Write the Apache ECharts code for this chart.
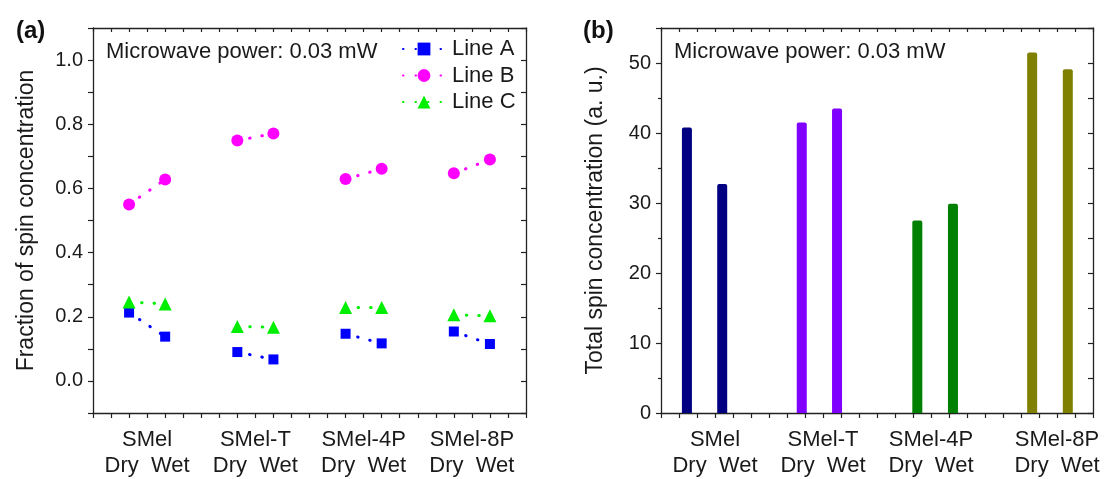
<!DOCTYPE html>
<html>
<head>
<meta charset="utf-8">
<script src="https://cdn.jsdelivr.net/npm/echarts@6/dist/echarts.min.js"></script>
<style>
html,body{margin:0;padding:0;background:#fff;}
#c{width:1106px;height:479px;}
</style>
</head>
<body>
<div id="c"></div>
<script>
// ---- data ----
const samples = ['SMel', 'SMel-T', 'SMel-4P', 'SMel-8P'];
const conditionLabel = 'Dry  Wet';
// x positions (axis units) of Dry / Wet points
const fracX = [1, 2, 4, 5, 7, 8, 10, 11];
const lineA = [0.213, 0.138, 0.090, 0.067, 0.147, 0.117, 0.154, 0.115];
const lineB = [0.550, 0.628, 0.749, 0.771, 0.629, 0.661, 0.647, 0.690];
const lineC = [0.246, 0.240, 0.170, 0.167, 0.229, 0.229, 0.206, 0.203];
const fracLabelX = [1.5, 4.5, 7.5, 10.5];

const totalX = [0.72, 1.70, 3.91, 4.89, 7.12, 8.11, 10.31, 11.30];
const totalSpin = [40.8, 32.7, 41.5, 43.5, 27.5, 29.9, 51.5, 49.1];
const totalLabelX = [1.5, 4.5, 7.5, 11];

const fracTicks = { min: -0.1, max: 1.1, interval: 0.1 };
const totalTicks = { min: 0, max: 55, interval: 10 };
const xTicks = { min: 0, max: 12, interval: 0.5 };

const annotation = 'Microwave power: 0.03 mW';
const fracTitle = 'Fraction of spin concentration';
const totalTitle = 'Total spin concentration (a. u.)';

// ---- styles ----
const lineColors = { 'Line A': '#0000ff', 'Line B': '#ff00ff', 'Line C': '#00ee00' };
const lineSymbols = { 'Line A': 'rect', 'Line B': 'circle', 'Line C': 'triangle' };
const lineSymbolSize = { 'Line A': 10, 'Line B': 12, 'Line C': 13 };
const barColors = ['#000080', '#8000ff', '#008000', '#808000'];
const FONT = '"Liberation Sans", Arial, Helvetica, sans-serif';
const AX = '#222';

function xLabelFormatter(labelX) {
  return function (v) {
    for (let i = 0; i < labelX.length; i++) {
      if (Math.abs(v - labelX[i]) < 1e-6) return samples[i] + '\n' + conditionLabel;
    }
    return '';
  };
}

function xAxes(gridIndex, labelX) {
  return [
    {
      type: 'value', gridIndex, position: 'bottom',
      min: xTicks.min, max: xTicks.max, interval: xTicks.interval,
      axisLine: { show: true, onZero: false, lineStyle: { color: AX, width: 1.3 } },
      axisTick: { show: true, inside: false, length: 5, lineStyle: { color: AX, width: 1.2 } },
      splitLine: { show: false },
      axisLabel: {
        show: true, margin: 14, formatter: xLabelFormatter(labelX),
        fontFamily: FONT, fontSize: 22, color: '#1a1a1a', lineHeight: 26
      }
    },
    {
      type: 'value', gridIndex, position: 'top',
      min: xTicks.min, max: xTicks.max, interval: xTicks.interval,
      axisLine: { show: true, onZero: false, lineStyle: { color: AX, width: 1.3 } },
      axisTick: { show: true, inside: true, length: 4, lineStyle: { color: AX, width: 1.2 } },
      splitLine: { show: false },
      axisLabel: { show: false }
    }
  ];
}

const seriesList = [];
const lineDefs = [['Line A', lineA], ['Line B', lineB], ['Line C', lineC]];
lineDefs.forEach(([name, vals]) => {
  for (let g = 0; g < samples.length; g++) {
    seriesList.push({
      name, type: 'line', xAxisIndex: 0, yAxisIndex: 0,
      color: lineColors[name],
      symbol: lineSymbols[name], symbolSize: lineSymbolSize[name],
      lineStyle: { color: lineColors[name], width: 3, type: [0.5, 12], cap: 'round' },
      itemStyle: { color: lineColors[name] },
      data: [[fracX[2 * g], vals[2 * g]], [fracX[2 * g + 1], vals[2 * g + 1]]],
      silent: true, animation: false
    });
  }
});
seriesList.push({
  type: 'bar', xAxisIndex: 2, yAxisIndex: 2,
  barWidth: 10,
  data: totalSpin.map((v, i) => ({
    value: [totalX[i], v],
    itemStyle: { color: barColors[Math.floor(i / 2)], borderRadius: [2, 2, 0, 0] }
  })),
  animation: false
});

const option = {
  backgroundColor: '#fff',
  animation: false,
  textStyle: { fontFamily: FONT },
  title: [
    {
      text: '{p|(}{b|a}{p|)}', left: 11, top: 14,
      textStyle: { rich: {
        p: { fontSize: 24, fontFamily: FONT, color: '#111' },
        b: { fontSize: 24, fontWeight: 'bold', fontFamily: FONT, color: '#111' } } }
    },
    {
      text: '{p|(}{b|b}{p|)}', left: 578, top: 14,
      textStyle: { rich: {
        p: { fontSize: 24, fontFamily: FONT, color: '#111' },
        b: { fontSize: 24, fontWeight: 'bold', fontFamily: FONT, color: '#111' } } }
    },
    {
      text: annotation, left: 101, top: 36,
      textStyle: { fontSize: 22, fontWeight: 'normal', fontFamily: FONT, color: '#1a1a1a' }
    },
    {
      text: annotation, left: 669, top: 36,
      textStyle: { fontSize: 22, fontWeight: 'normal', fontFamily: FONT, color: '#1a1a1a' }
    }
  ],
  legend: {
    data: ['Line A', 'Line B', 'Line C'],
    orient: 'vertical', left: 397, top: 33,
    itemWidth: 42, itemHeight: 16, itemGap: 4.5,
    textStyle: { fontSize: 22, fontFamily: FONT, color: '#1a1a1a', padding: [0, 0, 0, 2] },
    selectedMode: false
  },
  grid: [
    { left: 93, right: 580, top: 28, bottom: 62 },
    { left: 661, right: 13, top: 28, bottom: 62 }
  ],
  xAxis: [...xAxes(0, fracLabelX), ...xAxes(1, totalLabelX)],
  yAxis: [
    {
      type: 'value', gridIndex: 0, position: 'left',
      min: fracTicks.min, max: fracTicks.max, interval: fracTicks.interval,
      name: fracTitle, nameLocation: 'middle', nameGap: 55, nameRotate: 90,
      nameTextStyle: { fontSize: 23, fontFamily: FONT, color: '#1a1a1a' },
      axisLine: { show: true, onZero: false, lineStyle: { color: AX, width: 1.3 } },
      axisTick: { show: true, inside: false, length: 5, lineStyle: { color: AX, width: 1.2 } },
      splitLine: { show: false },
      axisLabel: {
        margin: 10, fontSize: 20, fontFamily: FONT, color: '#1a1a1a',
        formatter: v => (Math.round(v * 10) % 2 === 0 ? (Math.round(v * 10) / 10).toFixed(1) : '')
      }
    },
    {
      type: 'value', gridIndex: 0, position: 'right',
      min: fracTicks.min, max: fracTicks.max, interval: fracTicks.interval,
      axisLine: { show: true, onZero: false, lineStyle: { color: AX, width: 1.3 } },
      axisTick: { show: true, inside: true, length: 5, lineStyle: { color: AX, width: 1.2 } },
      splitLine: { show: false }, axisLabel: { show: false }
    },
    {
      type: 'value', gridIndex: 1, position: 'left',
      min: totalTicks.min, max: totalTicks.max, interval: totalTicks.interval,
      name: totalTitle, nameLocation: 'middle', nameGap: 54, nameRotate: 90,
      nameTextStyle: { fontSize: 23, fontFamily: FONT, color: '#1a1a1a' },
      axisLine: { show: true, onZero: false, lineStyle: { color: AX, width: 1.3 } },
      axisTick: { show: true, inside: false, length: 5, lineStyle: { color: AX, width: 1.2 } },
      minorTick: { show: true, splitNumber: 2, length: 3, lineStyle: { color: AX, width: 1.2 } },
      splitLine: { show: false },
      axisLabel: {
        margin: 10, fontSize: 20, fontFamily: FONT, color: '#1a1a1a', showMaxLabel: false,
        formatter: v => (v % totalTicks.interval === 0 ? String(v) : '')
      }
    },
    {
      type: 'value', gridIndex: 1, position: 'right',
      min: totalTicks.min, max: totalTicks.max, interval: totalTicks.interval,
      axisLine: { show: true, onZero: false, lineStyle: { color: AX, width: 1.3 } },
      axisTick: { show: true, inside: true, length: 5, lineStyle: { color: AX, width: 1.2 } },
      minorTick: { show: true, splitNumber: 2, length: 5, lineStyle: { color: AX, width: 1.2 } },
      splitLine: { show: false }, minorSplitLine: { show: false }, axisLabel: { show: false }
    }
  ],
  series: seriesList
};

const chart = echarts.init(document.getElementById('c'), null, { renderer: 'canvas' });
chart.setOption(option);
</script>
</body>
</html>
